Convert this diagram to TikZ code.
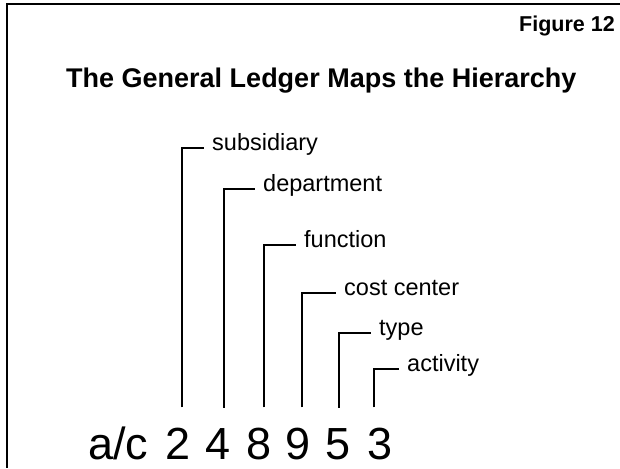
\documentclass[tikz,border=0pt]{standalone}
\usepackage{fontspec}
\setmainfont{Liberation Sans}
\usepackage{tikz}
\usetikzlibrary{positioning, calc}

\begin{document}
\begin{tikzpicture}[x=1pt, y=-1pt,
  lbl/.style={anchor=west, inner xsep=8pt, inner ysep=0pt, text height=1ex, text depth=0pt, font=\fontsize{23.5}{28}\selectfont},
  digit/.style={anchor=base, inner sep=0pt, font=\fontsize{45}{50}\selectfont}]
\useasboundingbox (0,0) rectangle (620,468);
\draw[line width=1.6pt] (620,4) -- (7,4) -- (7,468);

\node[anchor=base east, inner sep=0pt, font=\fontsize{21.5}{26}\selectfont\bfseries] (fig) at (615,32) {Figure 12};
\node[anchor=base west, inner sep=0pt, font=\fontsize{27}{32}\selectfont\bfseries] (title) at (66,88) {The General Ledger Maps the Hierarchy};

\node[lbl] (lsub) at (204,148) {subsidiary};
\node[lbl] (ldep) at (255,189) {department};
\node[lbl] (lfun) at (296,245) {function};
\node[lbl] (lcost) at (336,293) {cost center};
\node[lbl] (ltype) at (371,333) {type};
\node[lbl] (lact) at (399,369) {activity};

\node[anchor=base west, inner sep=0pt, font=\fontsize{45}{50}\selectfont] (ac) at (88,459) {a/c};
\node[digit] (d2) at (178,459) {2};
\node[digit] (d4) at (218,459) {4};
\node[digit] (d8) at (259,459) {8};
\node[digit] (d9) at (298,459) {9};
\node[digit] (d5) at (338,459) {5};
\node[digit] (d3) at (380,459) {3};

\foreach \d/\l/\dx in {d2/lsub/4, d4/ldep/6, d8/lfun/5, d9/lcost/4, d5/ltype/1, d3/lact/-6}
  \draw[line width=1.3pt] (\d.north) ++(\dx,-20) |- (\l.west);
\end{tikzpicture}
\end{document}
